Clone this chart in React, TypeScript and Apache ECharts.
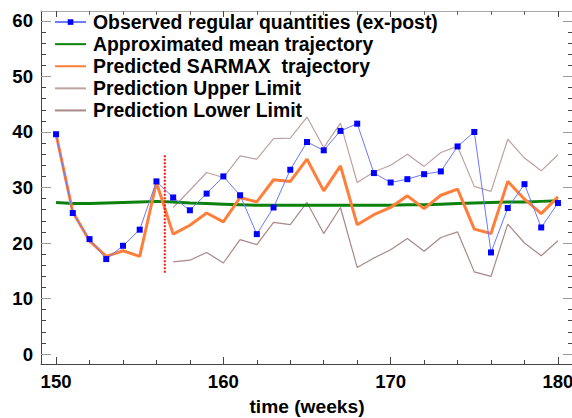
import React, { useEffect, useRef } from "react";
import * as echarts from "echarts";

const weeks = [150, 151, 152, 153, 154, 155, 156, 157, 158, 159, 160, 161, 162, 163, 164, 165, 166, 167, 168, 169, 170, 171, 172, 173, 174, 175, 176, 177, 178, 179, 180];
const observed = [39.6, 25.4, 20.7, 17.1, 19.5, 22.4, 31.1, 28.2, 25.9, 28.9, 32.0, 28.6, 21.6, 26.4, 33.2, 38.2, 36.7, 40.2, 41.5, 32.6, 30.9, 31.5, 32.4, 32.9, 37.4, 40.0, 18.3, 26.3, 30.6, 22.8, 27.2];
const meanTraj = [27.3, 27.1, 27.1, 27.2, 27.3, 27.4, 27.5, 27.4, 27.2, 27.1, 27.0, 26.9, 26.8, 26.8, 26.8, 26.8, 26.8, 26.8, 26.8, 26.8, 26.8, 26.9, 26.9, 27.0, 27.1, 27.2, 27.3, 27.4, 27.4, 27.5, 27.6];
const predicted = [39.6, 25.6, 20.4, 17.6, 18.6, 17.6, 30.9, 21.6, 23.2, 25.4, 23.8, 28.2, 27.4, 31.4, 31.1, 35.1, 29.4, 33.9, 23.3, 25.1, 26.4, 28.5, 26.2, 28.6, 29.7, 22.5, 21.7, 31.1, 27.9, 25.3, 28.3];
const forecastWeeks = [157, 158, 159, 160, 161, 162, 163, 164, 165, 166, 167, 168, 169, 170, 171, 172, 173, 174, 175, 176, 177, 178, 179, 180];
const upperLimit = [26.4, 29.5, 32.7, 31.8, 35.7, 35.1, 38.8, 38.9, 42.7, 37.2, 41.6, 30.9, 32.8, 34.0, 36.0, 33.8, 36.3, 37.4, 30.2, 29.3, 38.7, 35.3, 33.0, 35.9];
const lowerLimit = [16.6, 16.9, 18.3, 16.4, 20.6, 19.7, 23.7, 23.3, 27.3, 21.7, 26.4, 15.6, 17.3, 18.8, 20.8, 18.5, 21.0, 22.0, 14.8, 14.0, 23.4, 20.0, 17.7, 20.4];
const cutoffWeek = 156.5;
const cutoffRange = [35.8, 14.5];

const xMajor = [150, 160, 170, 180];
const xMinor = [152, 154, 156, 158, 162, 164, 166, 168, 172, 174, 176, 178];
const yMajor = [0, 10, 20, 30, 40, 50, 60];
const yMinor = [2, 4, 6, 8, 12, 14, 16, 18, 22, 24, 26, 28, 32, 34, 36, 38, 42, 44, 46, 48, 52, 54, 56, 58];

const names = [
  "Observed regular quantities (ex-post)",
  "Approximated mean trajectory",
  "Predicted SARMAX  trajectory",
  "Prediction Upper Limit",
  "Prediction Lower Limit",
];

const FONT = "'Liberation Sans', Arial, sans-serif";

export default function App() {
  const ref = useRef<HTMLDivElement>(null);
  useEffect(() => {
    if (!ref.current) return;
    const chart = echarts.init(ref.current, undefined, { renderer: "svg" });
    const xMin = 149.1, xMax = 180.9, yMin = -1.8, yMax = 61.8;
    const baseX = (pos: string, vals: number[], len: number, color: string, showLine: boolean, lineColor: string) => ({
      type: "value", position: pos, min: xMin, max: xMax,
      axisLine: { show: showLine, onZero: false, lineStyle: { color: lineColor, width: 1 } },
      axisTick: { show: true, inside: true, length: len, customValues: vals, lineStyle: { color, width: 1 } },
      axisLabel: { show: false },
      splitLine: { show: false },
    });
    const baseY = (pos: string, vals: number[], len: number, color: string, showLine: boolean, lineColor: string) => ({
      type: "value", position: pos, min: yMin, max: yMax,
      axisLine: { show: showLine, onZero: false, lineStyle: { color: lineColor, width: 1 } },
      axisTick: { show: true, inside: true, length: len, customValues: vals, lineStyle: { color, width: 1 } },
      axisLabel: { show: false },
      splitLine: { show: false },
    });
    const xMain: any = baseX("bottom", xMajor, 7, "#444", true, "#444");
    xMain.axisLabel = { show: true, customValues: xMajor, fontFamily: FONT, fontWeight: "bold", fontSize: 18.6, color: "#000", margin: 8 };
    xMain.name = "time (weeks)";
    xMain.nameLocation = "middle";
    xMain.nameGap = 33;
    xMain.nameTextStyle = { fontFamily: FONT, fontWeight: "bold", fontSize: 19.2, color: "#000" };
    const yMain: any = baseY("left", yMajor, 10, "#999", true, "#444");
    yMain.axisLabel = { show: true, customValues: yMajor, fontFamily: FONT, fontWeight: "bold", fontSize: 18.6, color: "#000", margin: 8 };

    const pair = (xs: number[], ys: number[]) => xs.map((x, i) => [x, ys[i]]);
    const hidden = { opacity: 0 };

    chart.setOption({
      animation: false,
      backgroundColor: "#fff",
      grid: { left: 41, top: 11, width: 532, height: 353, containLabel: false, outerBoundsMode: "none" },
      xAxis: [
        xMain,
        baseX("bottom", xMinor, 4, "#444", false, "#444"),
        baseX("top", xMajor, 6, "#444", true, "#aaa"),
        baseX("top", xMinor, 4, "#666", false, "#aaa"),
      ],
      yAxis: [
        yMain,
        baseY("left", yMinor, 5, "#444", false, "#444"),
        baseY("right", yMajor, 10, "#999", true, "#444"),
        baseY("right", yMinor, 5, "#444", false, "#444"),
      ],
      legend: {
        data: [
          { name: names[0] },
          { name: names[1], itemStyle: hidden },
          { name: names[2], itemStyle: hidden },
          { name: names[3], itemStyle: hidden },
          { name: names[4], itemStyle: hidden },
        ],
        orient: "vertical",
        left: 54,
        top: 11,
        padding: 0,
        itemWidth: 31,
        itemHeight: 7,
        itemGap: 0,
        selectedMode: false,
        textStyle: { fontFamily: FONT, fontWeight: "bold", fontSize: 19.4, color: "#000", lineHeight: 22.1, padding: [0, 0, 0, 2] },
      },
      series: [
        {
          name: names[3], type: "line", data: pair(forecastWeeks, upperLimit), showSymbol: false, symbol: "none",
          lineStyle: { color: "#bda2a2", width: 1.2 }, itemStyle: { color: "#bda2a2" },
        },
        {
          name: names[4], type: "line", data: pair(forecastWeeks, lowerLimit), showSymbol: false, symbol: "none",
          lineStyle: { color: "#a88888", width: 1.2 }, itemStyle: { color: "#a88888" },
        },
        {
          name: names[1], type: "line", data: pair(weeks, meanTraj), showSymbol: false, symbol: "none",
          lineStyle: { color: "#0c820c", width: 3 }, itemStyle: { color: "#0c820c" },
        },
        {
          name: names[2], type: "line", data: pair(weeks, predicted), showSymbol: false, symbol: "none",
          lineStyle: { color: "#ff7f3a", width: 3 }, itemStyle: { color: "#ff7f3a" },
        },
        {
          name: names[0], type: "line", data: pair(weeks, observed), symbol: "rect", symbolSize: 6, showSymbol: true,
          lineStyle: { color: "#6b78ff", width: 1 }, itemStyle: { color: "#0000ff", borderWidth: 0 },
        },
        {
          name: "cutoff", type: "line", data: [[cutoffWeek, cutoffRange[0]], [cutoffWeek, cutoffRange[1]]],
          showSymbol: false, symbol: "none",
          lineStyle: { color: "#ff1010", width: 2, type: [2, 1.5] },
        },
      ],
    });
    return () => chart.dispose();
  }, []);
  return <div ref={ref} style={{ position: "fixed", left: 0, top: 0, width: 572, height: 418 }} />;
}
